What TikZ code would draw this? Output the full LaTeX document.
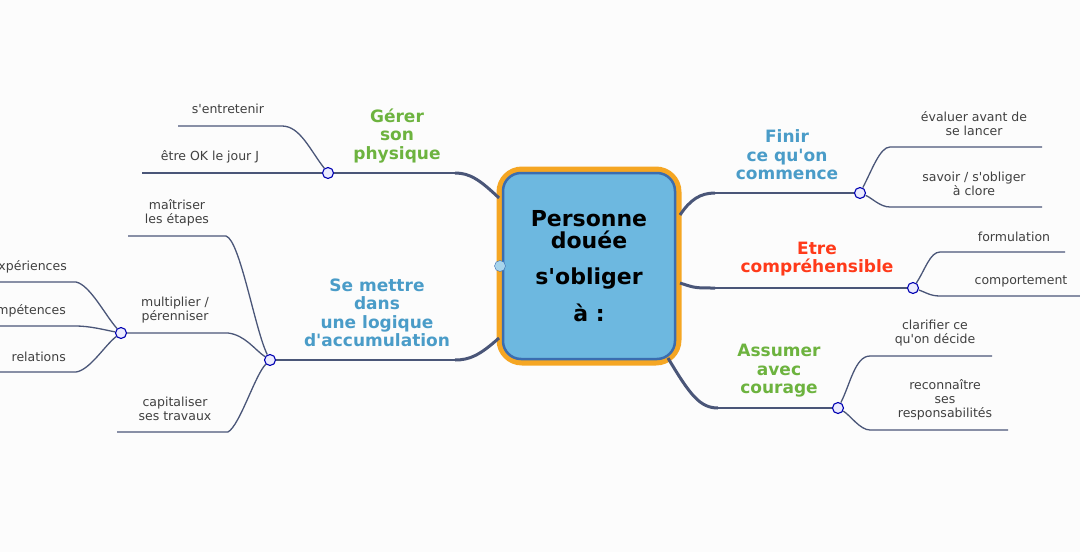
\documentclass[tikz,border=0pt]{standalone}
\usepackage{fontspec}
\setmainfont{DejaVu Sans}
\usetikzlibrary{positioning}
\definecolor{branch}{HTML}{4A5678}
\definecolor{gmind}{HTML}{6DB33F}
\definecolor{bmind}{HTML}{4A9CC8}
\definecolor{rmind}{HTML}{FF3A1A}
\definecolor{boxfill}{HTML}{6DB8E0}
\definecolor{boxline}{HTML}{3A6DB0}
\definecolor{boxring}{HTML}{F5A623}
\newcommand\ap{\textquotesingle}
\begin{document}
\begin{tikzpicture}[x=1pt,y=-1pt]
    \tikzset{
      topic/.style={font=\fontsize{17}{18.5}\selectfont\bfseries,align=center,inner sep=0pt},
      leaf/.style={font=\fontsize{12.5}{14}\selectfont,text=black!75,align=center,inner sep=0pt},
      knot/.style={circle,draw=blue!70!black,fill=blue!8,line width=1.1pt,inner sep=0pt,minimum size=11pt},
      main/.style={draw=branch,line width=3pt},
      twig/.style={draw=branch,line width=1.3pt}
    }
    \fill[black!1] (0,0) rectangle (1080,552);
    \useasboundingbox (0,0) rectangle (1080,552);
    % centre
    \node[draw=boxring,line width=7pt,rounded corners=22pt,minimum width=178pt,minimum height=192pt] (ring) at (589,266) {};
    \node[draw=boxline,fill=boxfill,line width=2.5pt,rounded corners=18pt,minimum width=172pt,minimum height=186pt,
          font=\fontsize{22}{22}\selectfont\bfseries,align=center] (root) at (589,266)
          {Personne\\douée\\[14pt]s\ap obliger\\[14pt]à :};
    \node[circle,draw=boxline,fill=boxfill!60,inner sep=0pt,minimum size=11pt] (rootk) at (500,266) {};
    % knots
    \node[knot] (kphys) at (328,173) {};
    \node[knot] (kaccu) at (270,360) {};
    \node[knot] (kmult) at (121,333) {};
    \node[knot] (kfin) at (860,193) {};
    \node[knot] (kcomp) at (913,288) {};
    \node[knot] (kcour) at (838,408) {};
    % free ends
    \coordinate (bphys) at (455,173);  \coordinate (baccu) at (455,360);
    \coordinate (bfin) at (715,193);   \coordinate (bcomp) at (715,288);
    \coordinate (bcour) at (718,408);
    % main branches
    \draw[main] (499,198) .. controls (480,180) and (470,173) .. (bphys);
    \draw[twig] (bphys) -- (kphys);
    \draw[main] (499,338) .. controls (480,355) and (470,360) .. (baccu);
    \draw[twig] (baccu) -- (kaccu);
    \draw[main] (680,215) .. controls (690,200) and (700,193) .. (bfin);
    \draw[twig] (bfin) -- (kfin);
    \draw[main] (680,283) .. controls (695,288) .. (bcomp);
    \draw[twig] (bcomp) -- (kcomp);
    \draw[main] (668,358) .. controls (690,395) and (700,408) .. (bcour);
    \draw[twig] (bcour) -- (kcour);
    % topics
    \node[topic,text=gmind] (tphys) at (397,136) {Gérer\\son\\physique};
    \node[topic,text=bmind] (taccu) at (377,313) {Se mettre\\dans\\une logique\\d\ap accumulation};
    \node[topic,text=bmind] (tfin) at (787,155) {Finir\\ce qu\ap on\\commence};
    \node[topic,text=rmind] (tcomp) at (817,259) {Etre\\compréhensible};
    \node[topic,text=gmind] (tcour) at (779,371) {Assumer\\avec\\courage};
    % twigs left
    \coordinate (lent) at (178,126);   \coordinate (lok) at (142,173);
    \draw[twig] (lent) -- (282,126) .. controls (300,126) and (310,150) .. (kphys);
    \draw[twig] (lok) -- (kphys);
    \node[leaf] (nent) at (228,109) {s\ap entretenir};
    \node[leaf] (nok) at (210,157) {être OK le jour J};
    \coordinate (lmai) at (128,236);   \coordinate (lmul) at (132,333);  \coordinate (lcap) at (117,432);
    \draw[twig] (lmai) -- (226,236) .. controls (240,240) and (255,330) .. (kaccu);
    \draw[twig] (kmult) -- (228,333) .. controls (245,335) and (255,350) .. (kaccu);
    \draw[twig] (lcap) -- (228,432) .. controls (240,425) and (255,375) .. (kaccu);
    \node[leaf] (nmai) at (177,213) {maîtriser\\les étapes};
    \node[leaf] (nmul) at (175,310) {multiplier /\\pérenniser};
    \node[leaf] (ncap) at (175,409) {capitaliser\\ses travaux};
    \coordinate (lexp) at (0,282); \coordinate (lcpt) at (0,326); \coordinate (lrel) at (0,372);
    \draw[twig] (lexp) -- (76,282) .. controls (90,285) and (105,315) .. (kmult);
    \draw[twig] (lcpt) -- (76,326) .. controls (90,326) and (105,330) .. (kmult);
    \draw[twig] (lrel) -- (76,372) .. controls (90,370) and (105,345) .. (kmult);
    \node[leaf,anchor=east] (nexp) at (67,267) {expériences};
    \node[leaf,anchor=east] (ncpt) at (66,311) {compétences};
    \node[leaf,anchor=east] (nrel) at (66,357) {relations};
    % twigs right
    \draw[twig] (kfin) .. controls (872,170) and (880,147) .. (890,147) -- (1042,147);
    \draw[twig] (kfin) .. controls (872,198) and (880,207) .. (890,207) -- (1042,207);
    \node[leaf] (neva) at (974,124) {évaluer avant de\\se lancer};
    \node[leaf] (nclo) at (974,184) {savoir / s\ap obliger\\à clore};
    \draw[twig] (kcomp) .. controls (925,270) and (930,252) .. (940,252) -- (1065,252);
    \draw[twig] (kcomp) .. controls (925,292) and (930,296) .. (940,296) -- (1080,296);
    \node[leaf] (nfor) at (1014,237) {formulation};
    \node[leaf] (ncom) at (1021,281) {comportement};
    \draw[twig] (kcour) .. controls (850,385) and (855,356) .. (870,356) -- (992,356);
    \draw[twig] (kcour) .. controls (850,415) and (860,430) .. (870,430) -- (1008,430);
    \node[leaf] (ncla) at (935,333) {clarifier ce\\qu\ap on décide};
    \node[leaf] (nres) at (945,400) {reconnaître\\ses\\responsabilités};
\end{tikzpicture}
\end{document}
